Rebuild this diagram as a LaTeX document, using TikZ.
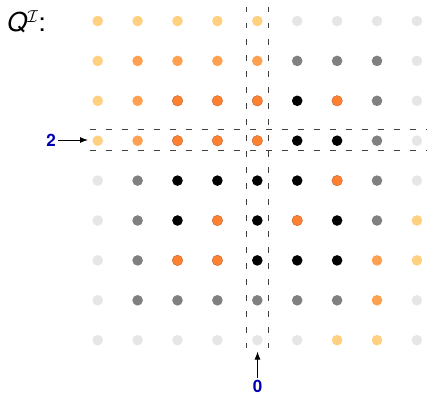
\documentclass[tikz,border=0pt]{standalone}
\usepackage{fontspec}
\newfontfamily\heros{TeX Gyre Heros}
\usetikzlibrary{arrows.meta}
\definecolor{cLG}{RGB}{230,230,230}
\definecolor{cG}{RGB}{128,128,128}
\definecolor{cB}{RGB}{0,0,0}
\definecolor{cLO}{RGB}{255,208,128}
\definecolor{cMO}{RGB}{255,160,80}
\definecolor{cO}{RGB}{255,128,48}
\definecolor{lblblue}{RGB}{0,0,176}
\begin{document}
\begin{tikzpicture}[x=1pt,y=-1pt,
  dot/.style={circle,inner sep=0pt,minimum size=10.6pt,draw=none},
  dLG/.style={fill=cLG},
  dG/.style={fill=cG},
  dB/.style={fill=cB},
  dLO/.style={fill=cLO},
  dMO/.style={fill=cMO},
  dO/.style={fill=cO,draw=cO!70!black,line width=0.3pt},
  dsh/.style={draw=black!75,line width=0.9pt,dash pattern=on 5.5pt off 10.5pt},
  lbl/.style={font=\heros\bfseries\fontsize{17}{20}\selectfont,text=lblblue,inner sep=2pt},
  arr/.style={draw=black,line width=1pt,-{Latex[length=8pt,width=6pt]}}]
\useasboundingbox (0,0) rectangle (427,396);
% dashed strips
\draw[dsh] (246.7,7) -- (246.7,348);
\draw[dsh] (268.3,7) -- (268.3,348);
\draw[dsh] (90,129.3) -- (427,129.3);
\draw[dsh] (90,150.7) -- (427,150.7);
% dots
\foreach \row [count=\j from 0] in {
  {LO,LO,LO,LO,LO,LG,LG,LG,LG},
  {LO,MO,MO,MO,MO,G,G,G,LG},
  {LO,MO,O,O,O,B,O,G,LG},
  {LO,MO,O,O,O,B,B,G,LG},
  {LG,G,B,B,B,B,O,G,LG},
  {LG,G,B,O,B,O,B,G,LO},
  {LG,G,O,O,B,B,B,MO,LO},
  {LG,G,G,G,G,G,G,MO,LG},
  {LG,LG,LG,LG,LG,LG,LO,LO,LG}}{
  \foreach \c [count=\i from 0] in \row {
    \node[dot,d\c] (d-\i-\j) at ({97.7+39.9*\i},{21+39.9*\j}) {};
  }
}
% title
\node[anchor=base west,inner sep=0pt] (title) at (7,32)
  {\fontsize{26}{30}\selectfont\heros\itshape Q\upshape$^{\mathcal{I}}$:};
% labels and arrows
\node[lbl] (two) at (51,140) {2};
\coordinate (twoend) at (88,140);
\draw[arr] (two) -- (twoend);
\node[lbl] (zero) at (257.5,386.5) {0};
\coordinate (zeroend) at (257.5,351.5);
\draw[arr] (zero) -- (zeroend);
\end{tikzpicture}
\end{document}
